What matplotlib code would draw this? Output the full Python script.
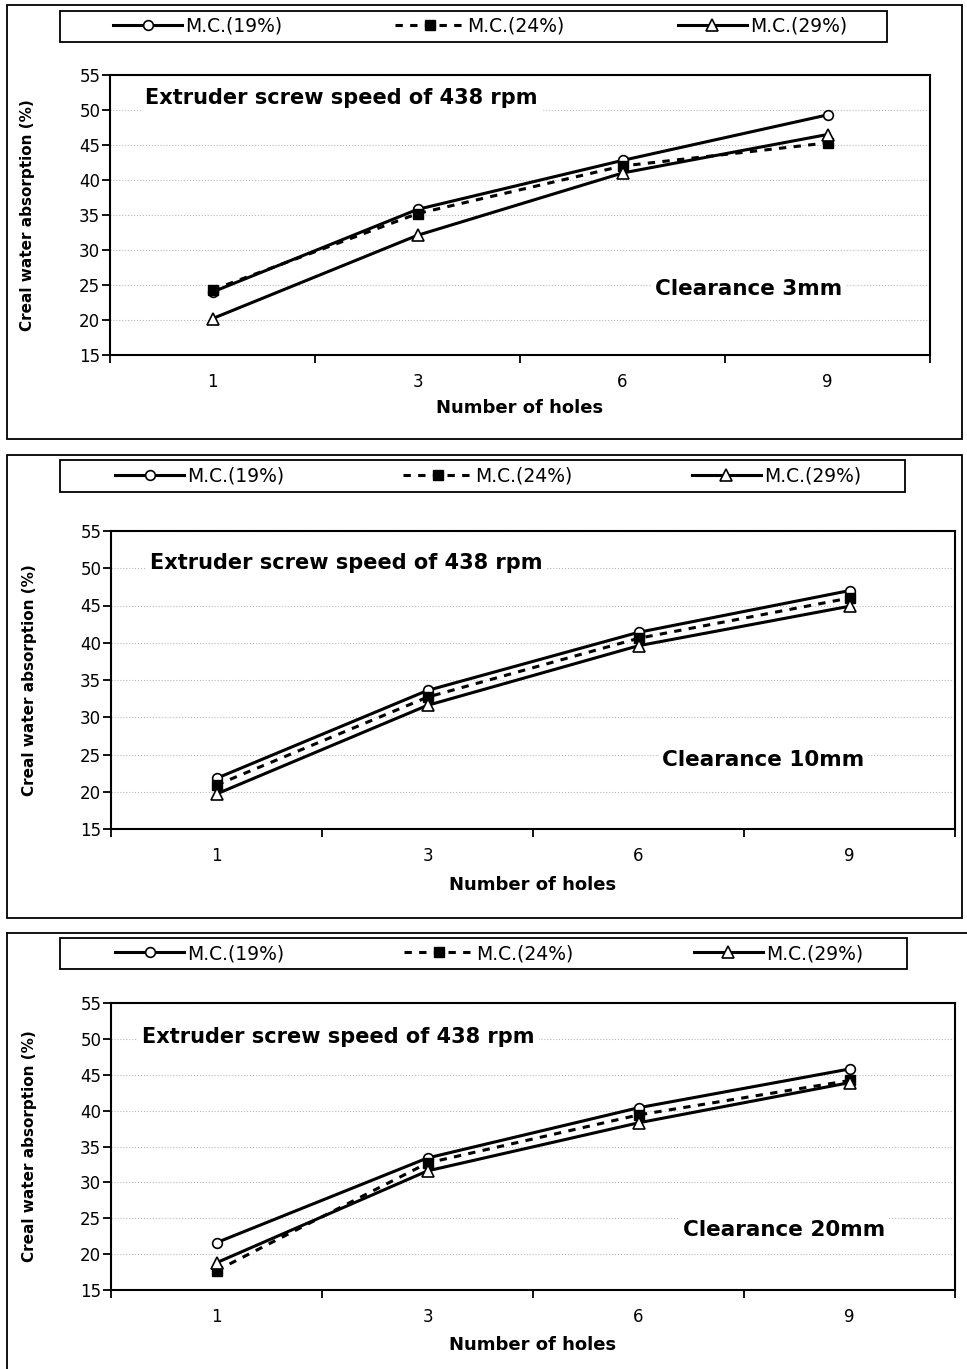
import matplotlib
matplotlib.use("Agg")
import matplotlib.pyplot as plt
from matplotlib.patches import Rectangle
from matplotlib.lines import Line2D

holes = ["1", "3", "6", "9"]
series_names = ["M.C.(19%)", "M.C.(24%)", "M.C.(29%)"]
clearances = ["Clearance 3mm", "Clearance 10mm", "Clearance 20mm"]

# creal water absorption (%), one list per moisture content
mc19_3mm = [24.0, 35.8, 42.8, 49.3]
mc24_3mm = [24.3, 35.2, 42.0, 45.3]
mc29_3mm = [20.2, 32.1, 41.0, 46.5]

mc19_10mm = [21.8, 33.6, 41.4, 47.0]
mc24_10mm = [20.9, 32.7, 40.6, 46.0]
mc29_10mm = [19.7, 31.6, 39.6, 44.9]

mc19_20mm = [21.6, 33.4, 40.4, 45.8]
mc24_20mm = [17.7, 32.7, 39.4, 44.2]
mc29_20mm = [18.8, 31.6, 38.3, 43.9]

panels_data = [
    [mc19_3mm, mc24_3mm, mc29_3mm],
    [mc19_10mm, mc24_10mm, mc29_10mm],
    [mc19_20mm, mc24_20mm, mc29_20mm],
]

W, H = 967, 1369
font = ["DejaVu Sans"]

styles = [
    dict(color="black", lw=2.2, ls="-", marker="o", ms=7, mfc="white", mec="black", mew=1.2),
    dict(color="black", lw=2.2, ls=(0, (2.4, 2.4)), marker="s", ms=6.5, mfc="black", mec="black"),
    dict(color="black", lw=2.2, ls="-", marker="^", ms=8, mfc="white", mec="black", mew=1.2),
]

# pixel layout of each panel (outer box, legend box, legend content span, axes box, text spots)
layout = [
    dict(box=(7, 5, 962, 439), leg=(60, 11, 887, 42), legspan=(113, 847), ax=(110, 75, 930, 355),
         xlab=408, ylab=28, title=(145, 98), clear=(655, 289)),
    dict(box=(7, 455, 962, 918), leg=(60, 460, 905, 492), legspan=(115, 861), ax=(111, 531, 955, 829),
         xlab=885, ylab=30, title=(150, 563), clear=(662, 760)),
    dict(box=(7, 933, 967, 1369), leg=(60, 938, 907, 969), legspan=(115, 863), ax=(111, 1003, 955, 1290),
         xlab=1345, ylab=30, title=(142, 1037), clear=(683, 1230)),
]

fig = plt.figure(figsize=(W / 100, H / 100), dpi=100)
fig.patch.set_facecolor("white")


def fx(x):
    return x / W


def fy(y):
    return 1 - y / H


for i, lay in enumerate(layout):
    x0, y0, x1, y1 = lay["box"]
    if i < 2:
        fig.add_artist(Rectangle((fx(x0), fy(y1)), fx(x1 - x0), (y1 - y0) / H,
                                 transform=fig.transFigure, fill=False, ec="black", lw=1.3))
    else:
        # last panel is cut off at the page edge, only top and left sides show
        fig.add_artist(Line2D([fx(x0), fx(x0)], [fy(y0), 0], transform=fig.transFigure, color="black", lw=1.3))
        fig.add_artist(Line2D([fx(x0), 1], [fy(y0), fy(y0)], transform=fig.transFigure, color="black", lw=1.3))

    l, t, r, b = lay["ax"]
    ax = fig.add_axes([fx(l), fy(b), fx(r - l), (b - t) / H])
    xs = range(len(holes))
    handles = []
    for vals, st, name in zip(panels_data[i], styles, series_names):
        h, = ax.plot(xs, vals, label=name, zorder=3, **st)
        handles.append(h)

    ax.set_xlim(-0.5, 3.5)
    ax.set_ylim(15, 55)
    ax.set_yticks(range(15, 60, 5))
    ax.set_xticks([-0.5, 0.5, 1.5, 2.5, 3.5])
    ax.set_xticklabels([])
    ax.set_xticks(list(xs), minor=True)
    ax.set_xticklabels(holes, minor=True)
    ax.tick_params(axis="x", which="major", direction="out", length=6, width=1.3)
    ax.tick_params(axis="x", which="minor", length=0, pad=13, labelsize=12)
    ax.tick_params(axis="y", direction="out", length=6, width=1.3, labelsize=12, pad=1)
    for lab in ax.get_xticklabels(minor=True) + ax.get_yticklabels():
        lab.set_family(font)
    for s in ax.spines.values():
        s.set_linewidth(1.5)
    ax.yaxis.grid(True, color="#b8b8b8", ls=":", lw=0.8)
    ax.set_axisbelow(True)

    fig.text(fx((l + r) / 2), fy(lay["xlab"]), "Number of holes", ha="center", va="center",
             fontsize=13, fontweight="bold", family=font)
    fig.text(fx(lay["ylab"]), fy((t + b) / 2), "Creal water absorption (%)", ha="center", va="center",
             rotation=90, fontsize=11, fontweight="bold", family=font)

    tx, ty = lay["title"]
    fig.text(fx(tx), fy(ty), "Extruder screw speed of 438 rpm", ha="left", va="center",
             fontsize=15, fontweight="bold", family=font, zorder=5,
             bbox=dict(facecolor="white", edgecolor="none", pad=3))
    cx, cy = lay["clear"]
    fig.text(fx(cx), fy(cy), clearances[i], ha="left", va="center",
             fontsize=15.5, fontweight="bold", family=font, zorder=5,
             bbox=dict(facecolor="white", edgecolor="none", pad=3))

    lx0, ly0, lx1, ly1 = lay["leg"]
    fig.add_artist(Rectangle((fx(lx0), fy(ly1)), fx(lx1 - lx0), (ly1 - ly0) / H,
                             transform=fig.transFigure, fill=False, ec="black", lw=1.3))
    sx0, sx1 = lay["legspan"]
    fig.legend(handles=handles, loc="center", ncol=3, mode="expand",
               bbox_to_anchor=(fx(sx0), fy(ly1), fx(sx1 - sx0), (ly1 - ly0) / H),
               frameon=False, handlelength=3.7, handletextpad=0.15, borderaxespad=0,
               borderpad=0, prop=dict(family=font, size=13.5))

fig.savefig("out.png", dpi=100)
